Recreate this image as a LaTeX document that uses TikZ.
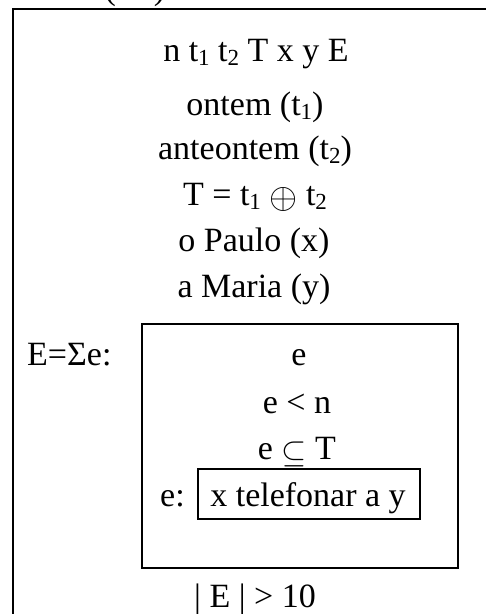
\documentclass[tikz,border=0pt]{standalone}
\usepackage{fontspec}
\usepackage{graphicx}
\setmainfont{Liberation Serif}
\newcommand\sbs[1]{\raisebox{-0.3ex}{\fontsize{23}{23}\selectfont #1}}
\newcommand\myoplus{\raisebox{-0.2ex}{\scalebox{1.45}{$\oplus$}}}
\newcommand\mysubeq{\raisebox{-0.25ex}{\scalebox{1.3}{$\subseteq$}}}
\begin{document}
\begin{tikzpicture}[x=1pt,y=-1pt,
  txt/.style={inner sep=0pt, anchor=base, font=\fontsize{34}{34}\selectfont},
  frame/.style={draw, line width=1.6pt}]
\useasboundingbox (0,0) rectangle (486,614);
\clip (0,0) rectangle (486,614);
\draw[frame] (520,9) -- (13,9) -- (13,650);
\node[txt] (top) at (135,-1) {(\hspace{38pt})};
\node[txt] (l1) at (256,61) {n t\sbs{1} t\sbs{2} T x y E};
\node[txt] (l2) at (255,115) {ontem (t\sbs{1})};
\node[txt] (l3) at (255,159) {anteontem (t\sbs{2})};
\node[txt] (l4) at (255,205) {T = t\sbs{1} \myoplus{} t\sbs{2}};
\node[txt] (l5) at (254,251) {o Paulo (x)};
\node[txt] (l6) at (254,297) {a Maria (y)};
\node[txt, anchor=base west] (sum) at (27,365) {E=Σe:};
\node[frame, anchor=north west, minimum width=316pt, minimum height=244pt, inner sep=0pt] (box) at (141,323) {};
\node[txt] (e1) at (299,365) {e};
\node[txt] (e2) at (297,413) {e < n};
\node[txt] (e3) at (297,459) {e \mysubeq{} T};
\node[frame, anchor=north west, minimum width=222pt, minimum height=50pt, inner sep=0pt] (ev) at (197,468) {};
\node[txt, anchor=base west] (elab) at (160,506) {e:};
\node[txt] (evt) at (308,506) {x telefonar a y};
\node[txt] (card) at (255,607) {| E | > 10};
\end{tikzpicture}
\end{document}
